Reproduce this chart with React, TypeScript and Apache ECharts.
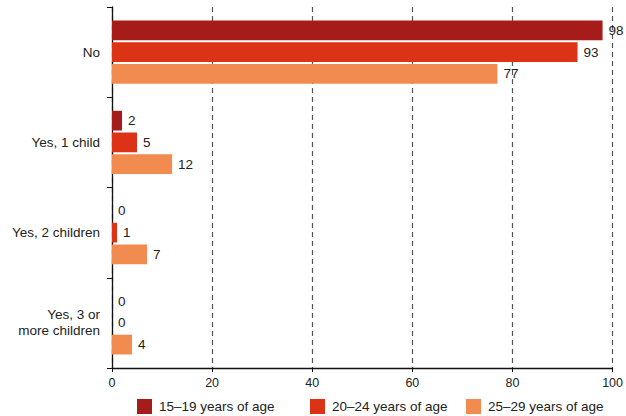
import React, { useEffect, useRef } from "react";
import * as echarts from "echarts";

const categories = ["No", "Yes, 1 child", "Yes, 2 children", "Yes, 3 or\nmore children"];
const seriesNames = ["15\u201319 years of age", "20\u201324 years of age", "25\u201329 years of age"];
const age15to19 = [98, 2, 0, 0];
const age20to24 = [93, 5, 1, 0];
const age25to29 = [77, 12, 7, 4];
const seriesValues = [age15to19, age20to24, age25to29];
const colors = ["#a51c1b", "#dc3316", "#f18b50"];
const xTicks = { min: 0, max: 100, interval: 20 };
const legendLefts = [137, 310, 466];

const FONT = "'Liberation Sans', Arial, Helvetica, sans-serif";

export default function App() {
  const ref = useRef<HTMLDivElement>(null);
  useEffect(() => {
    if (!ref.current) return;
    const chart = echarts.init(ref.current, null, { renderer: "svg" });
    chart.setOption({
      animation: false,
      textStyle: { fontFamily: FONT },
      grid: { left: 112, right: 13, top: 7, bottom: 48, containLabel: false },
      legend: seriesNames.map((name, i) => ({
        left: legendLefts[i],
        top: 399,
        padding: 0,
        itemWidth: 15,
        itemHeight: 15,
        icon: "rect",
        textStyle: { fontSize: 13.5, color: "#222", fontFamily: FONT, padding: [0, 0, 0, 2] },
        data: [name],
      })),
      xAxis: {
        type: "value",
        min: xTicks.min,
        max: xTicks.max,
        interval: xTicks.interval,
        axisLine: { show: true, lineStyle: { color: "#111", width: 1.3 } },
        axisTick: { show: true, length: 4, lineStyle: { color: "#111" } },
        axisLabel: { fontSize: 12.5, color: "#222", margin: 8, fontFamily: FONT },
        splitLine: { show: true, lineStyle: { color: "#555", type: [5, 4], width: 1.2 } },
      },
      yAxis: {
        type: "category",
        inverse: true,
        data: categories,
        axisLine: { show: true, lineStyle: { color: "#111", width: 1.3 } },
        axisTick: { show: true, length: 5, lineStyle: { color: "#111" } },
        axisLabel: { fontSize: 13.5, color: "#222", margin: 12, lineHeight: 16, fontFamily: FONT },
        splitLine: { show: false },
      },
      series: seriesNames.map((name, i) => ({
        name,
        type: "bar",
        data: seriesValues[i],
        itemStyle: { color: colors[i] },
        barCategoryGap: "30%",
        barGap: "10%",
        label: {
          show: true,
          position: "right",
          distance: 6,
          fontSize: 13.5,
          color: "#222",
          fontFamily: FONT,
        },
      })),
    });
    return () => chart.dispose();
  }, []);
  return (
    <div
      ref={ref}
      style={{ position: "fixed", left: 0, top: 0, width: 626, height: 416, background: "#fff" }}
    />
  );
}
